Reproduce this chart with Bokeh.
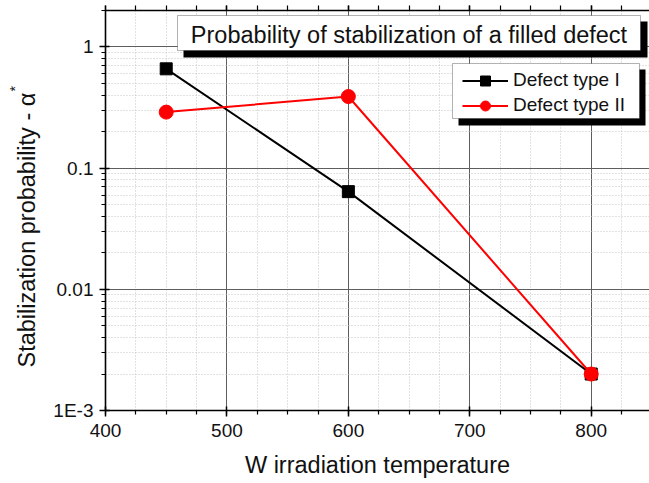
import math
from bokeh.plotting import figure
from bokeh.models import (ColumnDataSource, SingleIntervalTicker, FixedTicker,
                          CustomJSTickFormatter, Label, BoxAnnotation, Legend,
                          LegendItem, LinearAxis, Title)
from bokeh.embed import file_html
from bokeh.resources import INLINE

# ---------------- data ----------------
temperature = [450, 600, 800]
defect_type_1 = [0.66, 0.064, 0.002]
defect_type_2 = [0.29, 0.39, 0.002]
series_names = ["Defect type I", "Defect type II"]
y_ticks = [0.001, 0.01, 0.1, 1]
y_tick_labels = ["1E-3", "0.01", "0.1", "1"]
title_text = "Probability of stabilization of a filled defect"
x_label = "W irradiation temperature"
y_label = "Stabilization probability - \u03b1"
y_label_sup = "*"

# ---------------- layout ----------------
X_RANGE = (400, 848)
Y_RANGE = (0.001, 2.0)
W, H = 649, 483
FL, FT, FR, FB = 105, 10, 649, 410   # frame box in canvas pixels
FONT = "Liberation Sans"
NBSP = "\u00a0"


def X(px):
    return X_RANGE[0] + (px - FL) / (FR - FL) * (X_RANGE[1] - X_RANGE[0])


def Y(py):
    l0, l1 = math.log10(Y_RANGE[0]), math.log10(Y_RANGE[1])
    return 10 ** (l0 + (FB - py) / (FB - FT) * (l1 - l0))


p = figure(width=W, height=H, x_range=X_RANGE, y_range=Y_RANGE,
           y_axis_type="log", output_backend="svg", toolbar_location=None,
           min_border_left=FL, min_border_right=0, min_border_top=FT,
           min_border_bottom=H - FB)
p.outline_line_color = None
p.background_fill_color = "white"
p.border_fill_color = "white"

bottom_axis = p.below[0]
left_axis = p.left[0]

# ticks
x_ticker = SingleIntervalTicker(interval=100, num_minor_ticks=4)
bottom_axis.ticker = x_ticker
minor_y = [m * t for t in y_ticks for m in range(2, 10) if m * t <= Y_RANGE[1]]
left_axis.ticker = FixedTicker(ticks=y_ticks, minor_ticks=minor_y)
left_axis.formatter = CustomJSTickFormatter(
    args=dict(tvals=y_ticks, tlabels=y_tick_labels),
    code="const i = tvals.findIndex(t => Math.abs(t - tick) / t < 1e-6);"
         "return i >= 0 ? tlabels[i] : '';")

top_axis = LinearAxis(ticker=x_ticker,
                      formatter=CustomJSTickFormatter(code="return '';"),
                      major_label_text_font_size="0px",
                      major_label_standoff=0)
p.add_layout(top_axis, "above")

for ax in (bottom_axis, left_axis, top_axis):
    ax.axis_line_color = "black"
    ax.axis_line_width = 1.6
    ax.major_tick_line_color = "black"
    ax.major_tick_line_width = 1.5
    ax.minor_tick_line_color = "black"
    ax.minor_tick_line_width = 1.2
    ax.major_tick_in = 4
    ax.major_tick_out = 6
    ax.minor_tick_in = 0
    ax.minor_tick_out = 4
    ax.major_label_text_font = FONT
    ax.major_label_text_color = "#111111"
    ax.axis_label_text_font = FONT
    ax.axis_label_text_font_size = "23.5px"
    ax.axis_label_text_font_style = "normal"
    ax.axis_label_text_color = "#111111"
for ax in (bottom_axis, left_axis):
    ax.major_label_text_font_size = "19px"
top_axis.major_tick_in = 0
top_axis.major_tick_out = 5
top_axis.minor_tick_out = 5
bottom_axis.major_label_standoff = 7
left_axis.major_label_standoff = 6

bottom_axis.axis_label = x_label
bottom_axis.axis_label_standoff = 12
left_axis.axis_label = y_label + NBSP * 6
left_axis.axis_label_standoff = 10

# raised asterisk after the y axis title
p.add_layout(Title(text=y_label_sup, align="left", offset=FB - 91,
                   text_font=FONT, text_font_size="14px",
                   text_font_style="normal", text_color="#111111",
                   standoff=-23), "left")

p.grid.grid_line_color = "#5e5e5e"
p.grid.grid_line_width = 1
p.grid.minor_grid_line_color = "#c4c4c4"
p.grid.minor_grid_line_dash = "1 2"
p.grid.minor_grid_line_width = 1

# data
src = ColumnDataSource(dict(t=temperature, d1=defect_type_1, d2=defect_type_2))
r1l = p.line("t", "d1", source=src, line_color="black", line_width=2)
r1m = p.scatter("t", "d1", source=src, marker="square", size=12,
                fill_color="black", line_color="black")
r2l = p.line("t", "d2", source=src, line_color="#ff0000", line_width=2)
r2m = p.scatter("t", "d2", source=src, marker="circle", size=14,
                fill_color="#ff0000", line_color="#ff0000")

# title box with shadow
p.add_layout(BoxAnnotation(left=X(183), right=X(647), top=Y(21), bottom=Y(57),
                           fill_color="black", fill_alpha=1, line_color=None))
p.add_layout(BoxAnnotation(left=X(177), right=X(640), top=Y(15), bottom=Y(50),
                           fill_color="white", fill_alpha=1,
                           line_color="black", line_width=1))
p.add_layout(Label(x=X(408.5), y=Y(34), text=title_text, text_align="center",
                   text_baseline="middle", text_font=FONT,
                   text_font_size="23.5px", text_color="#111111"))

# legend frame with shadow
p.add_layout(BoxAnnotation(left=X(458), right=X(645), top=Y(69), bottom=Y(125),
                           fill_color="black", fill_alpha=1, line_color=None))
p.add_layout(BoxAnnotation(left=X(452), right=X(639), top=Y(63), bottom=Y(118),
                           fill_color="white", fill_alpha=1,
                           line_color="black", line_width=1))
legend = Legend(items=[LegendItem(label=series_names[0], renderers=[r1l, r1m]),
                       LegendItem(label=series_names[1], renderers=[r2l, r2m])],
                location=(462 - FL, FB - 117.5),
                border_line_color=None, background_fill_alpha=0,
                padding=0, spacing=0, margin=0,
                glyph_width=46, glyph_height=25, label_height=25,
                label_standoff=5, label_text_font=FONT,
                label_text_font_size="19px", label_text_color="#111111")
p.add_layout(legend)

open("out.html", "w").write(file_html(p, INLINE))
